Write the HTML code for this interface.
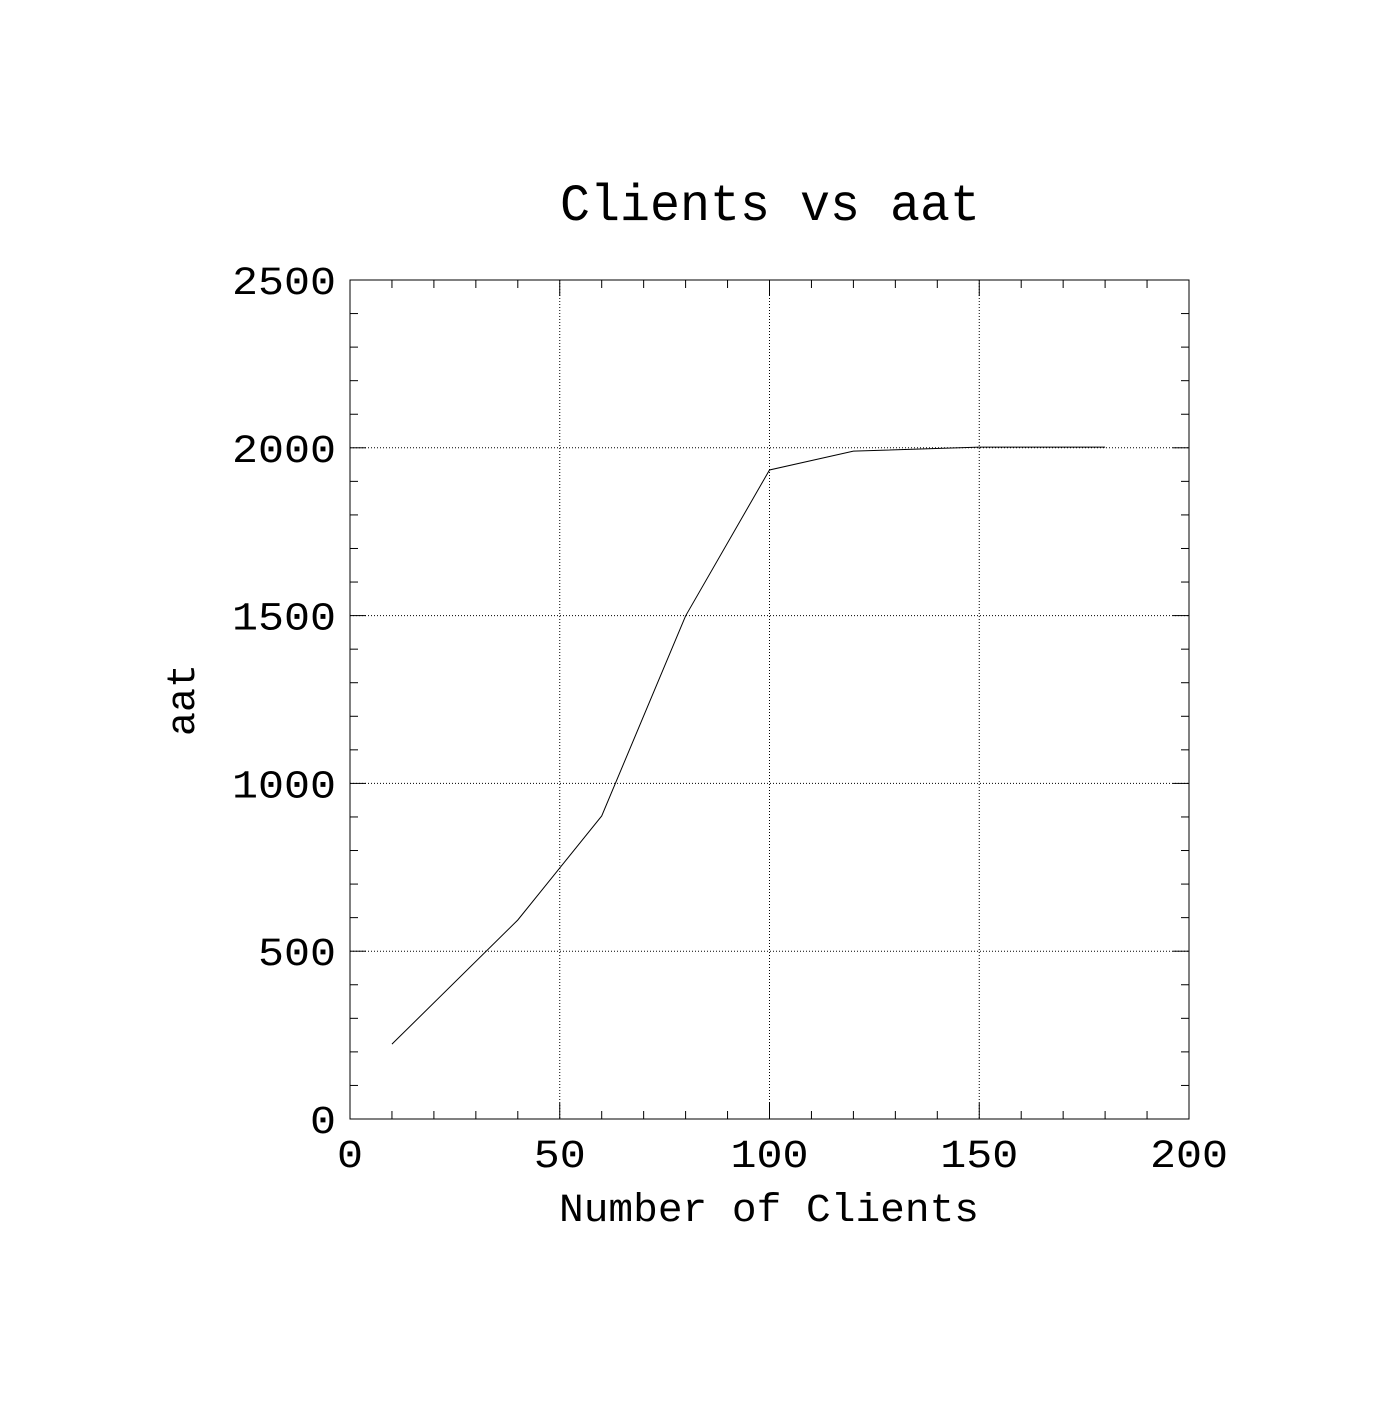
<!DOCTYPE html>
<html><head><meta charset="utf-8"><style>
html,body{margin:0;padding:0;background:#fff;}
svg text{font-family:"Liberation Mono","DejaVu Sans Mono",monospace;fill:#000;}
</style></head><body>
<svg id="chart" width="1400" height="1400" viewBox="0 0 1400 1400">
<rect x="0" y="0" width="1400" height="1400" fill="#fff"/>
<text x="770" y="220" font-size="52" text-anchor="middle" textLength="420" lengthAdjust="spacingAndGlyphs">Clients vs aat</text>
<text x="769" y="1221" font-size="40" text-anchor="middle" textLength="420" lengthAdjust="spacingAndGlyphs">Number of Clients</text>
<text transform="translate(194,700) rotate(-90)" font-size="40" text-anchor="middle" textLength="72" lengthAdjust="spacingAndGlyphs">aat</text>
<g id="grid"></g><g id="ticks"></g><g id="labels"></g>
<rect x="350" y="280" width="839" height="839" fill="none" stroke="#000" stroke-width="1"/>
<path id="line" fill="none" stroke="#000" stroke-width="1"/>
</svg>
<script>
const xValues=[10,40,60,80,100,120,150,180];
const yValues=[223,593,903,1499,1934,1990,2002,2002];
const xTicks=[0,50,100,150,200];
const yTicks=[0,500,1000,1500,2000,2500];
const L=350,R=1189,T=280,B=1119;
const sx=v=>L+(v/200)*(R-L);
const sy=v=>B-(v/2500)*(B-T);
const NS="http://www.w3.org/2000/svg";
function mk(tag,attrs,parent){const e=document.createElementNS(NS,tag);for(const k in attrs)e.setAttribute(k,attrs[k]);parent.appendChild(e);return e;}
const grid=document.getElementById('grid'),ticks=document.getElementById('ticks'),labels=document.getElementById('labels');
xTicks.forEach(v=>{
  if(v>0&&v<200){const g=mk('line',{x1:sx(v),x2:sx(v),y1:T,y2:B,stroke:'#000','stroke-width':1,'stroke-dasharray':'1,2'},grid);
  
  }
  const s=String(v);
  const t=mk('text',{x:sx(v),y:B+48,'font-size':40,'text-anchor':'middle',textLength:26*s.length,lengthAdjust:'spacingAndGlyphs'},labels);t.textContent=s;
  
  
});
yTicks.forEach(v=>{
  if(v>0&&v<2500){const g=mk('line',{x1:L,x2:R,y1:sy(v),y2:sy(v),stroke:'#000','stroke-width':1,'stroke-dasharray':'1,2'},grid);
  
  }
  const s=String(v);
  const t=mk('text',{x:L-14,y:sy(v)+14,'font-size':40,'text-anchor':'end',textLength:26*s.length,lengthAdjust:'spacingAndGlyphs'},labels);t.textContent=s;
  
  
});
for(let v=0;v<=200;v+=10){const len=v%50===0?16:8;
  const a=mk('line',{x1:sx(v),x2:sx(v),y1:B,y2:B-len,stroke:'#000'},ticks);
  
  
  const b=mk('line',{x1:sx(v),x2:sx(v),y1:T,y2:T+len,stroke:'#000'},ticks);
  
  }
for(let v=0;v<=2500;v+=100){const len=v%500===0?16:8;
  const a=mk('line',{x1:L,x2:L+len,y1:sy(v),y2:sy(v),stroke:'#000'},ticks);
  
  
  const b=mk('line',{x1:R,x2:R-len,y1:sy(v),y2:sy(v),stroke:'#000'},ticks);
  
  }
document.getElementById('line').setAttribute('d',xValues.map((x,i)=>(i?'L':'M')+sx(x)+','+sy(yValues[i])).join(' '));
</script>
</body></html>
